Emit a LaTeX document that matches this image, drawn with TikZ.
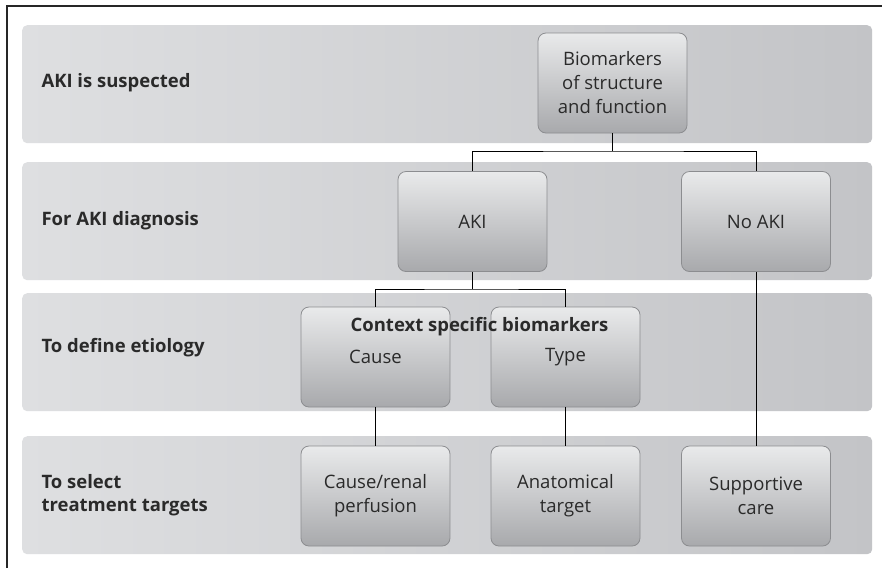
\documentclass[tikz,border=0pt]{standalone}
\usepackage{fontspec}
\setmainfont{Open Sans}
\usetikzlibrary{positioning}
\definecolor{bandL}{HTML}{DEDFE1}
\definecolor{bandR}{HTML}{C3C4C7}
\definecolor{boxT}{HTML}{E9EAEB}
\definecolor{boxB}{HTML}{A8A9AC}
\definecolor{boxline}{HTML}{8C8D90}
\definecolor{txt}{HTML}{2A2A2A}
\tikzset{
  band/.style={rounded corners=5pt, left color=bandL, right color=bandR, minimum width=850, minimum height=118, inner sep=0pt, anchor=north west},
  box/.style={rounded corners=8pt, top color=boxT, bottom color=boxB, draw=boxline, line width=0.8pt, minimum width=149, minimum height=100, inner sep=0pt, align=center, font=\fontsize{18.5}{24}\selectfont, text=txt},
  lab/.style={anchor=west, align=left, font=\fontsize{18.5}{23}\selectfont\bfseries, text=txt},
  conn/.style={draw=black, line width=1pt},
  frame/.style={draw=black!85, line width=1.3pt}
}
\begin{document}
\begin{tikzpicture}[x=1pt,y=-1pt]
\useasboundingbox (0,0) rectangle (882,568);
\fill[white] (0,0) rectangle (882,568);
\coordinate (fa) at (7,568);
\coordinate (fb) at (7,6);
\coordinate (fc) at (882,6);
\draw[frame] (fa) -- (fb) -- (fc);
% bands
\node[band] (b1) at (22,25) {};
\node[band] (b2) at (22,162) {};
\node[band] (b3) at (22,293) {};
\node[band] (b4) at (22,436) {};
% row labels
\node[lab] (l1) at (38,83) {AKI is suspected};
\node[lab] (l2) at (38,221) {For AKI diagnosis};
\node[lab] (l3) at (38,348) {To define etiology};
\node[lab] (l4) at (38,495) {To select\\treatment targets};
% boxes
\node[box] (bio) at (612.5,83) {Biomarkers\\of structure\\and function};
\node[box] (aki) at (472.5,221.5) {AKI};
\node[box] (noaki) at (756,221.5) {No AKI};
\node[box] (cause) at (375.5,357) {Cause};
\node[box] (type) at (565.5,357) {Type};
\node[box] (ren) at (375.5,496) {Cause/renal\\perfusion};
\node[box] (ana) at (565.5,496) {Anatomical\\target};
\node[box] (sup) at (756,496) {Supportive\\care};
\node[font=\fontsize{18.5}{23}\selectfont\bfseries, text=txt] (ctx) at (479.5,327) {Context specific biomarkers};
% connectors
\coordinate (j1) at (612.5,151);
\coordinate (j2) at (472.5,289);
\draw[conn] (bio.south) -- (j1);
\draw[conn] (aki.north) |- (j1) -| (noaki.north);
\draw[conn] (aki.south) -- (j2);
\draw[conn] (cause.north) |- (j2) -| (type.north);
\draw[conn] (noaki.south) -- (sup.north);
\draw[conn] (cause.south) -- (ren.north);
\draw[conn] (type.south) -- (ana.north);
\end{tikzpicture}
\end{document}
